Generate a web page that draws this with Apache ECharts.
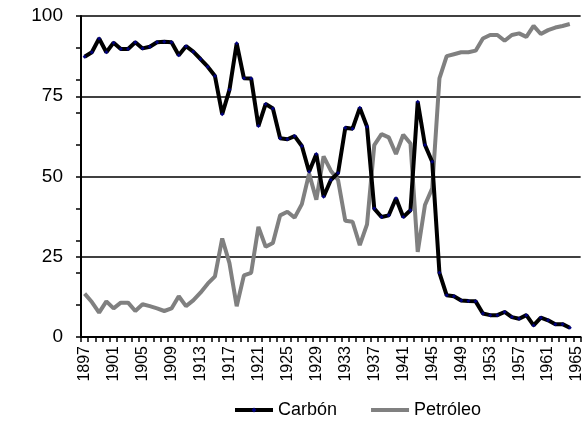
<!DOCTYPE html>
<html>
<head>
<meta charset="utf-8">
<script src="https://cdn.jsdelivr.net/npm/echarts@6/dist/echarts.min.js"></script>
<style>html,body{margin:0;padding:0;background:#fff;}#c{width:585px;height:422px;}</style>
</head>
<body>
<div id="c"></div>
<script>
var years = [];
for (var y = 1897; y <= 1965; y++) years.push(String(y));

var carbon = [87.3, 88.7, 93.0, 88.7, 91.7, 89.7, 89.7, 91.8, 89.9, 90.4,
  91.8, 92.0, 91.8, 87.8, 90.6, 88.9, 86.6, 84.2, 81.3, 69.4,
  77.0, 91.5, 80.6, 80.5, 65.7, 72.6, 71.2, 61.9, 61.6, 62.6,
  59.5, 51.5, 57.0, 43.7, 48.9, 51.1, 65.2, 64.9, 71.4, 65.5,
  40.0, 37.4, 37.9, 43.2, 37.4, 39.5, 73.3, 59.8, 54.6, 20.0,
  13.0, 12.7, 11.4, 11.2, 11.1, 7.3, 6.8, 6.8, 7.8, 6.2,
  5.7, 6.8, 3.6, 6.0, 5.2, 4.0, 4.0, 2.9, null];

var petroleo = [13.5, 10.9, 7.6, 11.1, 8.9, 10.7, 10.7, 8.1, 10.2, 9.6,
  8.9, 8.1, 8.9, 12.7, 9.6, 11.4, 13.8, 16.6, 18.9, 30.7,
  23.0, 9.6, 19.2, 20.0, 34.3, 28.1, 29.3, 37.9, 39.0, 37.2,
  41.4, 50.9, 42.8, 56.3, 51.8, 48.9, 36.2, 35.9, 28.6, 35.1,
  59.8, 63.2, 62.2, 57.0, 63.0, 60.3, 26.5, 41.1, 46.3, 80.6,
  87.5, 88.1, 88.7, 88.7, 89.2, 93.0, 94.1, 94.1, 92.3, 94.1,
  94.6, 93.5, 96.9, 94.4, 95.6, 96.4, 96.9, 97.5, null];

var chart = echarts.init(document.getElementById('c'), null, {renderer: 'canvas'});
var font = 'Liberation Sans, Arial, sans-serif';
chart.setOption({
  animation: false,
  backgroundColor: '#ffffff',
  textStyle: {fontFamily: font},
  grid: {left: 81, right: 0, top: 16, bottom: 85, containLabel: false},
  legend: {
    data: [
      {name: 'Carbón'},
      {name: 'Petróleo', icon: 'path://M0,0 L38,0 L38,4 L0,4 Z', itemStyle: {color: '#808080'}}
    ],
    left: 228, top: 396,
    itemWidth: 38, itemHeight: 6, itemGap: 34,
    lineStyle: {width: 4},
    textStyle: {fontSize: 18, color: '#000', fontFamily: font}
  },
  xAxis: {
    type: 'category',
    data: years,
    boundaryGap: true,
    axisLine: {show: true, lineStyle: {color: '#000', width: 2}},
    axisTick: {show: true, interval: 0, length: 5, lineStyle: {color: '#000', width: 1.5}},
    axisLabel: {rotate: 90, interval: 3, fontSize: 16, color: '#000', margin: 9, fontFamily: font},
    splitLine: {show: false}
  },
  yAxis: [{
    type: 'value', min: 0, max: 100, interval: 25, position: 'left',
    axisLine: {show: true, lineStyle: {color: '#000', width: 2}},
    axisTick: {show: true, length: 5, lineStyle: {color: '#000', width: 1.5}},
    axisLabel: {fontSize: 19, color: '#000', margin: 18, fontFamily: font},
    splitLine: {show: true, lineStyle: {color: '#000', width: 1.5}}
  }, {
    type: 'value', min: 0, max: 100, interval: 10, position: 'left', offset: 0,
    axisLine: {show: false},
    axisTick: {show: true, length: 5, lineStyle: {color: '#000', width: 1.5}},
    axisLabel: {show: false},
    splitLine: {show: false}
  }],
  series: [{
    name: 'Petróleo', type: 'line', data: petroleo, yAxisIndex: 0,
    symbol: 'none', showSymbol: false,
    lineStyle: {color: '#808080', width: 4},
    itemStyle: {color: '#808080'}
  }, {
    name: 'Carbón', type: 'line', data: carbon, yAxisIndex: 0,
    symbol: 'diamond', symbolSize: 4, showSymbol: true,
    lineStyle: {color: '#000000', width: 4},
    itemStyle: {color: '#000080', borderWidth: 0}
  }]
});
</script>
</body>
</html>
